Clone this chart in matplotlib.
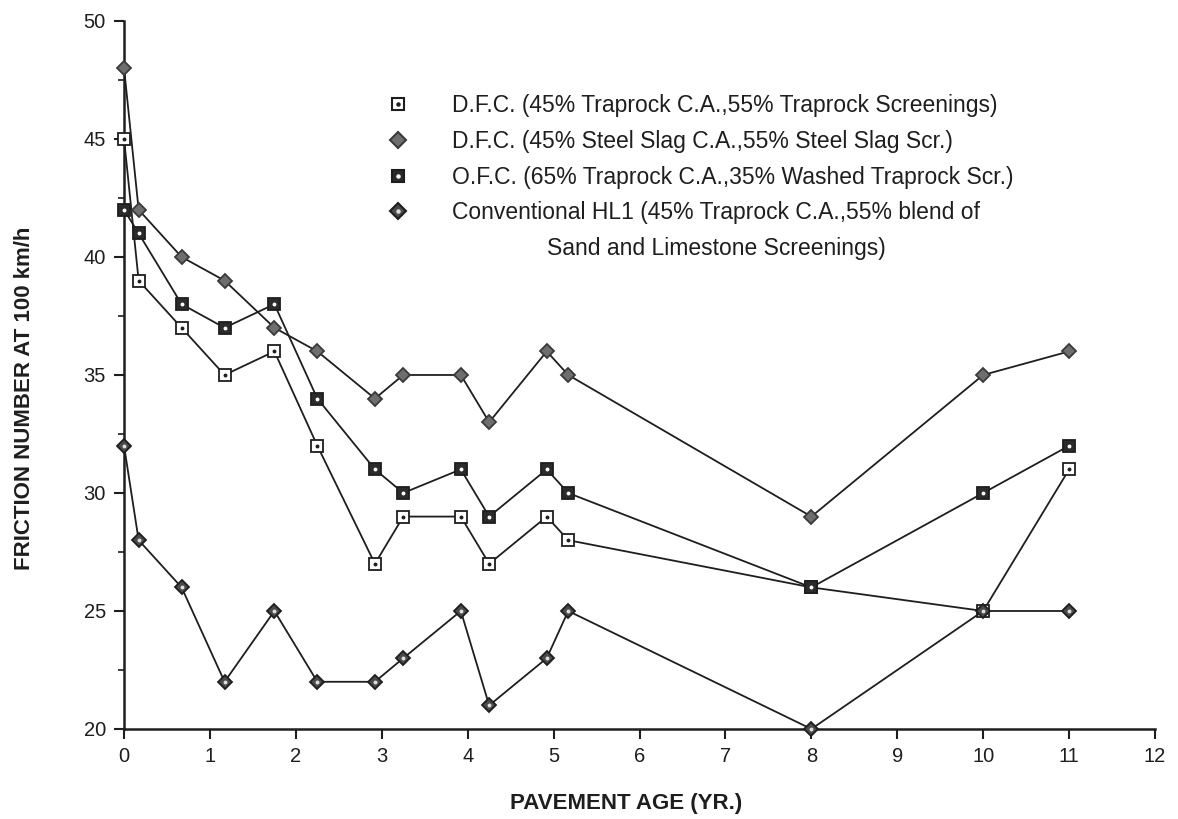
"""
Friction number vs pavement age for four surface course mixes.
Saves out.png
"""

import matplotlib
import matplotlib.pyplot as plt
from matplotlib.lines import Line2D
from matplotlib.ticker import MultipleLocator

matplotlib.use("Agg")

plt.rcParams["font.family"] = ["Liberation Sans", "DejaVu Sans"]

# pavement age (yr.) - same survey dates for every section
AGE = [0, 0.17, 0.67, 1.17, 1.75, 2.25, 2.92, 3.25, 3.92, 4.25, 4.92, 5.17, 8, 10, 11]

DFC_TRAPROCK = [45, 39, 37, 35, 36, 32, 27, 29, 29, 27, 29, 28, 26, 25, 31]
DFC_SLAG     = [48, 42, 40, 39, 37, 36, 34, 35, 35, 33, 36, 35, 29, 35, 36]
OFC_TRAPROCK = [42, 41, 38, 37, 38, 34, 31, 30, 31, 29, 31, 30, 26, 30, 32]
HL1          = [32, 28, 26, 22, 25, 22, 22, 23, 25, 21, 23, 25, 20, 25, 25]

LABELS = [
    "D.F.C. (45% Traprock C.A.,55% Traprock Screenings)",
    "D.F.C. (45% Steel Slag C.A.,55% Steel Slag Scr.)",
    "O.F.C. (65% Traprock C.A.,35% Washed Traprock Scr.)",
    "Conventional HL1 (45% Traprock C.A.,55% blend of",
]
LABEL_CONT = "Sand and Limestone Screenings)"

X_TICKS = list(range(0, 13))
Y_TICKS = [20, 25, 30, 35, 40, 45, 50]

INK = "#1e1e1e"

# marker face, edge, centre dot colour (None = no dot), marker
STYLES = [
    dict(marker="s", ms=8, mfc="white", mec=INK, dot=INK),
    dict(marker="D", ms=7, mfc="#6e6e6e", mec="#3a3a3a", dot=None),
    dict(marker="s", ms=8, mfc="#2b2b2b", mec=INK, dot="white"),
    dict(marker="D", ms=7, mfc="#4a4a4a", mec=INK, dot="#dddddd"),
]


def draw_series(ax, x, y, st):
    ax.plot(x, y, color=INK, linewidth=1.3, marker=st["marker"],
            markersize=st["ms"], markerfacecolor=st["mfc"],
            markeredgecolor=st["mec"], markeredgewidth=1.3, zorder=6,
            clip_on=False)
    if st["dot"]:
        ax.plot(x, y, linestyle="none", marker="o", markersize=1.8,
                markerfacecolor=st["dot"], markeredgecolor=st["dot"],
                zorder=7, clip_on=False)


def legend_handle(st):
    mark = Line2D([], [], linestyle="none", marker=st["marker"],
                  markersize=st["ms"] + 1, markerfacecolor=st["mfc"],
                  markeredgecolor=st["mec"], markeredgewidth=1.5)
    if not st["dot"]:
        return mark
    dot = Line2D([], [], linestyle="none", marker="o", markersize=2.2,
                 markerfacecolor=st["dot"], markeredgecolor=st["dot"])
    return (mark, dot)


def main():
    fig = plt.figure(figsize=(11.78, 8.19), dpi=100, facecolor="white")
    ax = fig.add_axes([0.1053, 0.1099, 0.8752, 0.8645])

    series = [DFC_TRAPROCK, DFC_SLAG, OFC_TRAPROCK, HL1]
    for vals, st in zip(series, STYLES):
        draw_series(ax, AGE, vals, st)

    ax.set_xlim(0, 12)
    ax.set_ylim(20, 50)
    ax.set_xticks(X_TICKS)
    ax.set_yticks(Y_TICKS)
    ax.yaxis.set_minor_locator(MultipleLocator(2.5))

    for side in ("top", "right"):
        ax.spines[side].set_visible(False)
    for side in ("left", "bottom"):
        ax.spines[side].set_linewidth(1.8)
        ax.spines[side].set_color(INK)
        ax.spines[side].set_zorder(5)

    ax.tick_params(axis="both", which="major", direction="out", length=7,
                   width=1.5, colors=INK, labelsize=14.5, pad=6)
    ax.tick_params(axis="y", which="minor", direction="out", length=4,
                   width=1.2, colors=INK)

    ax.set_xlabel("PAVEMENT AGE (YR.)", fontsize=16, fontweight="bold",
                  color=INK)
    ax.set_ylabel("FRICTION NUMBER AT 100 km/h", fontsize=16,
                  fontweight="bold", color=INK)
    ax.xaxis.set_label_coords(0.487, -0.090)
    ax.yaxis.set_label_coords(-0.086, 0.4675)

    handles = [legend_handle(st) for st in STYLES]
    leg = ax.legend(handles, LABELS, loc="upper left",
                    bbox_to_anchor=(0.2546, 0.897), frameon=False,
                    fontsize=16.5, handlelength=1.0, handletextpad=1.86,
                    labelspacing=0.56, borderpad=0, borderaxespad=0)
    for t in leg.get_texts():
        t.set_color(INK)

    # second line of the last legend entry, centred under the first
    fig.canvas.draw()
    ax.annotate(LABEL_CONT, xy=(0.5, 0), xycoords=leg.get_texts()[3],
                xytext=(0, -24), textcoords="offset pixels",
                ha="center", va="center", fontsize=16.5, color=INK,
                zorder=10)

    fig.savefig("out.png", dpi=100, facecolor="white")
    plt.close(fig)


if __name__ == "__main__":
    main()
